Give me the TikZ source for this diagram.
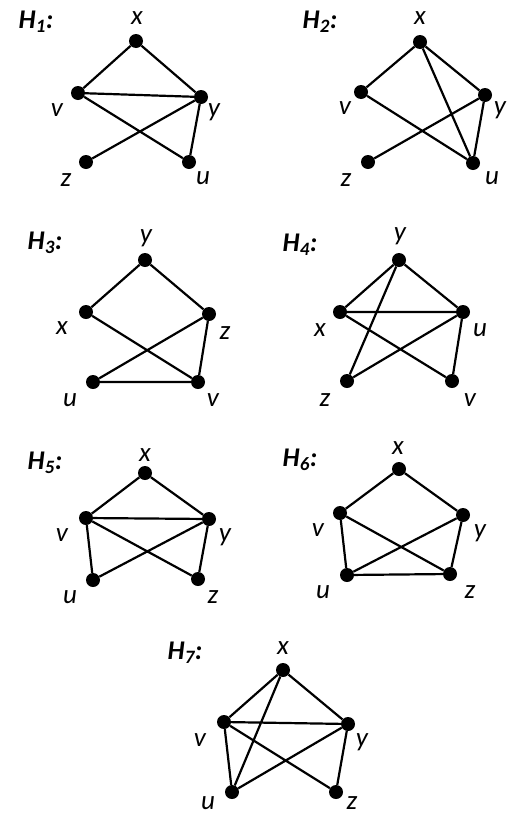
\documentclass[tikz,border=0pt]{standalone}
\usepackage{fontspec}
\setmainfont{Carlito}
\setsansfont{Carlito}
\usepackage{tikz}
\usetikzlibrary{positioning}

\begin{document}
\begin{tikzpicture}[x=1pt, y=-1pt,
  vert/.style={circle, fill=black, inner sep=0pt, minimum size=14pt},
  vlabel/.style={font=\fontsize{27}{29}\selectfont\sffamily\itshape, inner sep=0pt},
  gtitle/.style={font=\fontsize{27}{29}\selectfont\sffamily\bfseries\itshape, inner sep=0pt},
  edge/.style={line width=2.2pt}
]
\useasboundingbox (0,0) rectangle (507,817);

% H_1
\node[gtitle] (t1) at (36,22) {H\textsubscript{1}:};
\node[vert] (a1) at (136,41) {};
\node[vert] (b1) at (78,93) {};
\node[vert] (c1) at (201,97) {};
\node[vert] (d1) at (86,162) {};
\node[vert] (e1) at (189,162) {};
\node[vlabel] (la1) at (137,18) {x};
\node[vlabel] (lb1) at (57,110) {v};
\node[vlabel] (lc1) at (214,112) {y};
\node[vlabel] (ld1) at (66,180) {z};
\node[vlabel] (le1) at (203,178) {u};
\draw[edge] (a1) -- (b1) (a1) -- (c1) (b1) -- (c1) (b1) -- (e1) (d1) -- (c1) (c1) -- (e1);

% H_2
\node[gtitle] (t2) at (320,22) {H\textsubscript{2}:};
\node[vert] (a2) at (420,42) {};
\node[vert] (b2) at (361,92) {};
\node[vert] (c2) at (485,95) {};
\node[vert] (d2) at (368,162) {};
\node[vert] (e2) at (473,163) {};
\node[vlabel] (la2) at (420,18) {x};
\node[vlabel] (lb2) at (345,108) {v};
\node[vlabel] (lc2) at (500,110) {y};
\node[vlabel] (ld2) at (346,180) {z};
\node[vlabel] (le2) at (492,178) {u};
\draw[edge] (a2) -- (b2) (a2) -- (c2) (a2) -- (e2) (b2) -- (e2) (d2) -- (c2) (c2) -- (e2);

% H_3
\node[gtitle] (t3) at (45,243) {H\textsubscript{3}:};
\node[vert] (a3) at (145,260) {};
\node[vert] (b3) at (86,312) {};
\node[vert] (c3) at (209,314) {};
\node[vert] (d3) at (93,382) {};
\node[vert] (e3) at (198,382) {};
\node[vlabel] (la3) at (146,238) {y};
\node[vlabel] (lb3) at (62,328) {x};
\node[vlabel] (lc3) at (225,333) {z};
\node[vlabel] (ld3) at (70,400) {u};
\node[vlabel] (le3) at (213,400) {v};
\draw[edge] (a3) -- (b3) (a3) -- (c3) (b3) -- (e3) (c3) -- (d3) (c3) -- (e3) (d3) -- (e3);

% H_4
\node[gtitle] (t4) at (300,245) {H\textsubscript{4}:};
\node[vert] (a4) at (399,260) {};
\node[vert] (b4) at (340,312) {};
\node[vert] (c4) at (463,312) {};
\node[vert] (d4) at (347,381) {};
\node[vert] (e4) at (452,381) {};
\node[vlabel] (la4) at (400,236) {y};
\node[vlabel] (lb4) at (320,330) {x};
\node[vlabel] (lc4) at (480,330) {u};
\node[vlabel] (ld4) at (325,400) {z};
\node[vlabel] (le4) at (470,400) {v};
\draw[edge] (a4) -- (b4) (a4) -- (c4) (a4) -- (d4) (b4) -- (c4) (b4) -- (e4) (c4) -- (d4) (c4) -- (e4);

% H_5
\node[gtitle] (t5) at (45,463) {H\textsubscript{5}:};
\node[vert] (a5) at (145,473) {};
\node[vert] (b5) at (86,518) {};
\node[vert] (c5) at (209,519) {};
\node[vert] (d5) at (93,580) {};
\node[vert] (e5) at (198,579) {};
\node[vlabel] (la5) at (145,455) {x};
\node[vlabel] (lb5) at (62,535) {v};
\node[vlabel] (lc5) at (225,537) {y};
\node[vlabel] (ld5) at (70,597) {u};
\node[vlabel] (le5) at (213,597) {z};
\draw[edge] (a5) -- (b5) (a5) -- (c5) (b5) -- (c5) (b5) -- (d5) (b5) -- (e5) (c5) -- (d5) (c5) -- (e5);

% H_6
\node[gtitle] (t6) at (300,460) {H\textsubscript{6}:};
\node[vert] (a6) at (399,469) {};
\node[vert] (b6) at (340,513) {};
\node[vert] (c6) at (463,515) {};
\node[vert] (d6) at (347,575) {};
\node[vert] (e6) at (450,574) {};
\node[vlabel] (la6) at (398,448) {x};
\node[vlabel] (lb6) at (318,530) {v};
\node[vlabel] (lc6) at (480,533) {y};
\node[vlabel] (ld6) at (323,592) {u};
\node[vlabel] (le6) at (470,592) {z};
\draw[edge] (a6) -- (b6) (a6) -- (c6) (b6) -- (d6) (b6) -- (e6) (c6) -- (d6) (c6) -- (e6) (d6) -- (e6);

% H_7
\node[gtitle] (t7) at (185,653) {H\textsubscript{7}:};
\node[vert] (a7) at (283,670) {};
\node[vert] (b7) at (224,722) {};
\node[vert] (c7) at (348,724) {};
\node[vert] (d7) at (232,792) {};
\node[vert] (e7) at (336,792) {};
\node[vlabel] (la7) at (283,648) {x};
\node[vlabel] (lb7) at (200,740) {v};
\node[vlabel] (lc7) at (362,742) {y};
\node[vlabel] (ld7) at (208,803) {u};
\node[vlabel] (le7) at (352,803) {z};
\draw[edge] (a7) -- (b7) (a7) -- (c7) (a7) -- (d7) (b7) -- (c7) (b7) -- (d7) (b7) -- (e7) (c7) -- (d7) (c7) -- (e7);
\end{tikzpicture}
\end{document}
